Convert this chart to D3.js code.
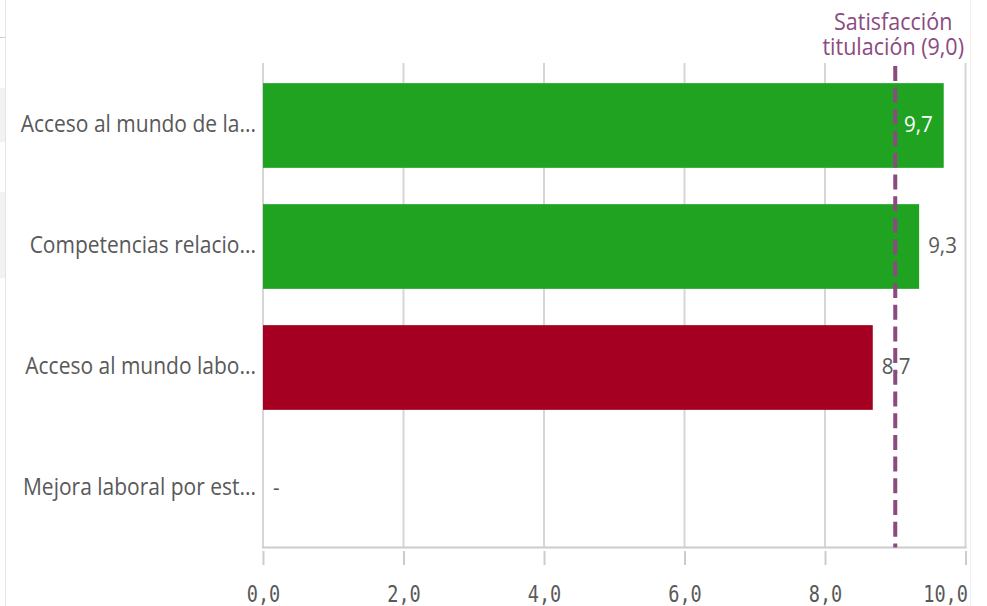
<!DOCTYPE html>
<html><head><meta charset="utf-8">
<script src="https://cdn.jsdelivr.net/npm/d3@7"></script>
<style>
html,body{margin:0;padding:0;background:#fff;}
svg{display:block;}
</style></head>
<body>
<svg id="chart" width="987" height="606"></svg>
<script>
const categories = ["Acceso al mundo de la...", "Competencias relacio...", "Acceso al mundo labo...", "Mejora laboral por est..."];
const values = [9.69, 9.34, 8.68, null];
const referenceValue = 9.0;
const referenceLabel = ["Satisfacción", "titulación (9,0)"];
const tickValues = [0, 2, 4, 6, 8, 10];

const W = 987, H = 606;
const SY = 1.1;              // slight vertical text stretch seen in the reference
const SY_MONO = 1.24;
const sansFont = "'Open Sans', 'Noto Sans', sans-serif";
const monoFont = "'DejaVu Sans Mono', monospace";
const textGrey = "#595959";
const green = "#21a322", red = "#a50021", refColor = "#8b4a80";

const svg = d3.select("#chart");

// faint app frame decorations at the edges
svg.append("rect").attr("x",0).attr("y",88).attr("width",5).attr("height",54).attr("fill","#f2f2f2");
svg.append("rect").attr("x",0).attr("y",192).attr("width",5).attr("height",86).attr("fill","#f2f2f2");
svg.append("line").attr("x1",0).attr("x2",5).attr("y1",37.5).attr("y2",37.5).attr("stroke","#cfcfcf");
svg.append("line").attr("x1",5.5).attr("x2",5.5).attr("y1",0).attr("y2",H).attr("stroke","#e4e4e4");
svg.append("line").attr("x1",970.5).attr("x2",970.5).attr("y1",0).attr("y2",H).attr("stroke","#efefef");

const x = d3.scaleLinear().domain([0, 10]).range([263, 965.5]);
const y = d3.scaleBand().domain(categories).range([65, 549]).paddingInner(0.3).paddingOuter(0.15);
const plotTop = 63, plotBottom = 547.5;
const fmt = v => d3.format(".1f")(v).replace(".", ",");

// grid lines
svg.append("g").selectAll("line").data(tickValues).join("line")
  .attr("x1", d => x(d)).attr("x2", d => x(d))
  .attr("y1", plotTop).attr("y2", plotBottom)
  .attr("stroke", "#d6d6d6").attr("stroke-width", 2);

// bars
const data = categories.map((c, i) => ({c, v: values[i]}));
svg.append("g").selectAll("rect").data(data.filter(d => d.v != null)).join("rect")
  .attr("x", x(0)).attr("y", d => y(d.c))
  .attr("width", d => x(d.v) - x(0)).attr("height", y.bandwidth())
  .attr("fill", d => d.v >= referenceValue ? green : red);

// x axis line
svg.append("line").attr("x1", x(0) - 1).attr("x2", x(10) + 1)
  .attr("y1", plotBottom).attr("y2", plotBottom)
  .attr("stroke", "#cccccc").attr("stroke-width", 2);

// bottom axis ticks + labels
const axis = d3.axisBottom(x).tickValues(tickValues).tickSizeInner(14).tickSizeOuter(0).tickFormat(fmt);
const ag = svg.append("g").attr("transform", "translate(0,551)").call(axis);
ag.select(".domain").remove();
ag.selectAll(".tick line").attr("stroke", "#cccccc").attr("stroke-width", 2);
ag.selectAll(".tick text")
  .attr("y", null).attr("dy", null)
  .attr("fill", textGrey).style("font-family", monoFont).style("font-size", "18.6px")
  .each(function(d) {
    const t = d3.select(this);
    const w = this.getComputedTextLength();
    let dx = 0;
    if (x(d) + w/2 > x(10) + 2) dx = x(10) + 2 - w/2 - x(d);   // keep last label inside the plot edge
    t.attr("transform", `translate(${dx},50.5) scale(1,${SY_MONO})`);
  });

// helper for stretched text
function stretchedText(g, tx, ty, txt, opts) {
  return g.append("text")
    .attr("transform", `translate(${tx},${ty}) scale(1,${SY})`)
    .attr("text-anchor", opts.anchor || "start")
    .attr("fill", opts.fill || textGrey)
    .style("font-family", opts.font || sansFont)
    .style("font-size", (opts.size || 21) + "px")
    .text(txt);
}

// category labels
const lg = svg.append("g");
categories.forEach(c => {
  stretchedText(lg, 256, y(c) + y.bandwidth()/2 + 6, c, {anchor: "end", size: 21});
});

// value labels
const vg = svg.append("g");
data.forEach(d => {
  const cy = y(d.c) + y.bandwidth()/2 + 6;
  if (d.v == null) {
    stretchedText(vg, x(0) + 10, cy, "-", {size: 20.5});
    return;
  }
  const t = stretchedText(vg, x(d.v) + 9, cy, fmt(d.v), {size: 20.5});
  const w = t.node().getComputedTextLength();
  if (x(d.v) + 9 + w > x(10)) {
    t.attr("transform", `translate(${x(d.v) - 11},${cy}) scale(1,${SY})`)
     .attr("text-anchor", "end").attr("fill", "#ffffff");
  }
});

// reference line
svg.append("line").attr("x1", x(referenceValue)).attr("x2", x(referenceValue))
  .attr("y1", 66).attr("y2", plotBottom)
  .attr("stroke", refColor).attr("stroke-width", 4)
  .attr("stroke-dasharray", "15,6.7");

// reference label: one text element, two lines
const rt = svg.append("text")
  .attr("text-anchor", "middle").attr("fill", refColor)
  .style("font-family", sansFont).style("font-size", "21.5px");
rt.selectAll("tspan").data(referenceLabel).join("tspan")
  .attr("x", 0).attr("dy", (d, i) => i === 0 ? 0 : 22.7)
  .text(d => d);
const maxW = d3.max(rt.selectAll("tspan").nodes(), n => n.getComputedTextLength());
const cx = Math.min(x(referenceValue), 964 - maxW/2);
rt.attr("transform", `translate(${cx},30) scale(1,${SY})`);
</script>
</body></html>
